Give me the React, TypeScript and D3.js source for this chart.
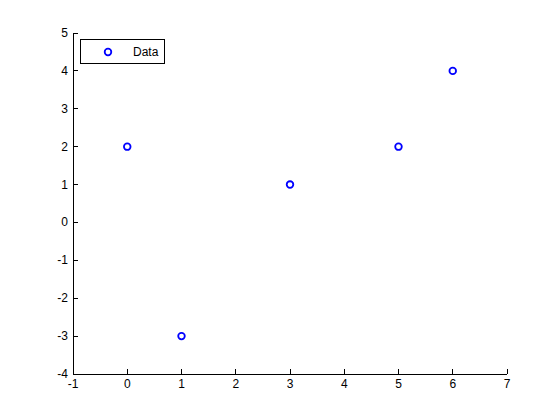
import React from "react";
import * as d3 from "d3";

// scatter values
const xValues = [0, 1, 3, 5, 6];
const yValues = [2, -3, 1, 2, 4];
const xTicks = [-1, 0, 1, 2, 3, 4, 5, 6, 7];
const yTicks = [-4, -3, -2, -1, 0, 1, 2, 3, 4, 5];
const seriesName = "Data";

const W = 560;
const H = 420;
const margin = { top: 33, right: 53, bottom: 46, left: 73 };
const font = "'Liberation Sans', Arial, sans-serif";

const App = () => {
  const x = d3.scaleLinear().domain([-1, 7]).range([margin.left, W - margin.right]);
  const y = d3.scaleLinear().domain([-4, 5]).range([H - margin.bottom, margin.top]);
  const points = xValues.map((v, i) => ({ x: v, y: yValues[i] }));
  const tick = 5;

  return (
    <svg width={W} height={H} style={{ position: "absolute", left: 0, top: 0, background: "#fff" }}>
      <rect width={W} height={H} fill="#fff" />
      {/* axes lines */}
      <line x1={x(-1)} x2={x(7)} y1={y(-4)} y2={y(-4)} stroke="#000" strokeWidth={1} shapeRendering="crispEdges" />
      <line x1={x(-1)} x2={x(-1)} y1={y(-4)} y2={y(5)} stroke="#000" strokeWidth={1} shapeRendering="crispEdges" />
      {xTicks.map((t) => (
        <g key={"x" + t}>
          <line x1={x(t)} x2={x(t)} y1={y(-4)} y2={y(-4) - tick} stroke="#000" shapeRendering="crispEdges" />
          <text x={x(t)} y={y(-4) + 14} textAnchor="middle" fontFamily={font} fontSize={12}>
            {t}
          </text>
        </g>
      ))}
      {yTicks.map((t) => (
        <g key={"y" + t}>
          <line x1={x(-1)} x2={x(-1) + tick} y1={y(t)} y2={y(t)} stroke="#000" shapeRendering="crispEdges" />
          <text x={x(-1) - 5} y={y(t) + 4} textAnchor="end" fontFamily={font} fontSize={12}>
            {t}
          </text>
        </g>
      ))}
      {points.map((p, i) => (
        <circle key={i} cx={x(p.x)} cy={y(p.y)} r={3.3} fill="none" stroke="#0000ff" strokeWidth={1.8} />
      ))}
      {/* legend */}
      <g>
        <rect x={80.5} y={39.5} width={84} height={24} fill="#fff" stroke="#000" strokeWidth={1} />
        <circle cx={108} cy={52} r={3.3} fill="none" stroke="#0000ff" strokeWidth={1.8} />
        <text x={133} y={56} fontFamily={font} fontSize={12}>
          {seriesName}
        </text>
      </g>
    </svg>
  );
};

export default App;
